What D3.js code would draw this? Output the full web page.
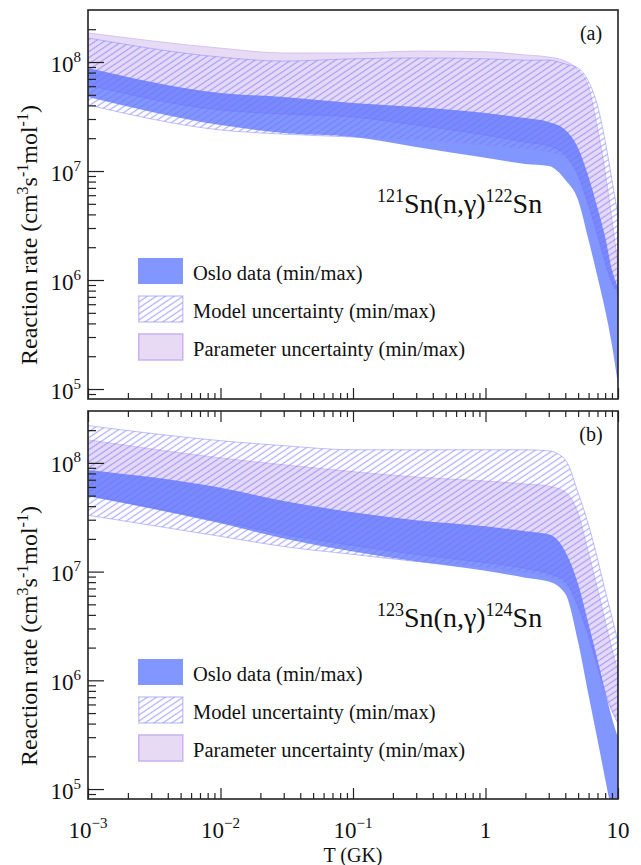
<!DOCTYPE html>
<html>
<head>
<meta charset="utf-8">
<script src="https://cdn.jsdelivr.net/npm/d3@7"></script>
<style>
  body { margin: 0; background: #fff; }
  svg { display: block; }
  text { font-family: "Liberation Serif", "Times New Roman", serif; fill: #111; }
</style>
</head>
<body>
<svg id="chart" width="641" height="865"></svg>
<script>
// Temperature grid (GK)
const temps = [0.001, 0.01, 0.03, 0.1, 0.3, 1, 2, 3, 4, 5, 6, 7, 8, 9, 10];

// (a) 121Sn(n,g)122Sn reaction rates, cm^3 s^-1 mol^-1
const osloMinA  = [4.78e7, 2.64e7, 2.23e7, 2.05e7, 1.66e7, 1.32e7, 1.16e7, 1.11e7, 8.3e6, 5.4e6, 2.33e6, 1.07e6, 5.3e5, 2.53e5, 1.09e5];
const osloMaxA  = [8.8e7, 5.2e7, 4.78e7, 4.21e7, 3.87e7, 3.40e7, 3.06e7, 2.82e7, 2.38e7, 1.63e7, 8.8e6, 4.6e6, 2.48e6, 1.24e6, 8.6e5];
const modelMinA = [4.04e7, 2.38e7, 2.18e7, 2.05e7, 1.92e7, 1.73e7, 1.59e7, 1.49e7, 1.32e7, 8.6e6, 4.6e6, 2.43e6, 1.37e6, 9.0e5, 7.3e5];
const modelMaxA = [1.66e8, 1.11e8, 1.02e8, 1.07e8, 1.09e8, 1.07e8, 1.04e8, 1.04e8, 9.6e7, 8.8e7, 6.6e7, 4.0e7, 1.88e7, 8.3e6, 3.9e6];
const paramMinA = [6.15e7, 3.63e7, 3.34e7, 3.13e7, 2.64e7, 2.14e7, 1.84e7, 1.70e7, 1.40e7, 9.2e6, 4.9e6, 2.59e6, 1.46e6, 9.6e5, 7.8e5];
const paramMaxA = [1.85e8, 1.34e8, 1.21e8, 1.21e8, 1.26e8, 1.24e8, 1.16e8, 1.11e8, 1.02e8, 8.45e7, 5.9e7, 2.48e7, 9.8e6, 3.55e6, 1.37e6];

// (b) 123Sn(n,g)124Sn reaction rates
const osloMinB  = [4.94e7, 2.78e7, 2.02e7, 1.53e7, 1.24e7, 1.02e7, 8.8e6, 8.1e6, 6.25e6, 2.25e6, 7.3e5, 2.85e5, 1.24e5, 6.0e4, 3.2e4];
const osloMaxB  = [8.6e7, 5.9e7, 4.45e7, 3.52e7, 2.97e7, 2.61e7, 2.35e7, 2.2e7, 1.53e7, 7.7e6, 3.3e6, 1.56e6, 7.9e5, 4.5e5, 2.97e5];
const modelMinB = [3.3e7, 2.11e7, 1.70e7, 1.44e7, 1.24e7, 1.09e7, 9.8e6, 9.0e6, 7.6e6, 4.54e6, 2.4e6, 1.27e6, 7.4e5, 5.2e5, 4.0e5];
const modelMaxB = [2.2e8, 1.6e8, 1.44e8, 1.32e8, 1.32e8, 1.32e8, 1.32e8, 1.29e8, 1.07e8, 5.3e7, 2.67e7, 1.32e7, 6.7e6, 3.83e6, 2.25e6];
const paramMinB = [5.06e7, 2.9e7, 2.2e7, 1.74e7, 1.44e7, 1.21e7, 1.07e7, 9.6e6, 8.1e6, 4.84e6, 2.55e6, 1.35e6, 7.9e5, 5.4e5, 4.2e5];
const paramMaxB = [1.63e8, 1.11e8, 9.6e7, 8.3e7, 7.4e7, 6.8e7, 6.4e7, 6.1e7, 5.4e7, 3.44e7, 1.47e7, 6.97e6, 3.52e6, 1.94e6, 1.21e6];

// Axis ticks
const xMajor = [1e-3, 1e-2, 1e-1, 1, 10];
const xMajorExp = ["−3", "−2", "−1", null, null];
const xMajorPlain = [null, null, null, "1", "10"];
const yMajor = [1e5, 1e6, 1e7, 1e8];
const yMajorExp = ["5", "6", "7", "8"];
const legendLabels = ["Oslo data (min/max)", "Model uncertainty (min/max)", "Parameter uncertainty (min/max)"];

const svg = d3.select("#chart");
const plotLeft = 88, plotRight = 618;

const x = d3.scaleLog().domain([1e-3, 10]).range([plotLeft, plotRight]);

function minorTicks(lo, hi) {
  const out = [];
  for (let e = Math.floor(Math.log10(lo)); e <= Math.ceil(Math.log10(hi)); e++) {
    for (let m = 2; m <= 9; m++) {
      const v = m * Math.pow(10, e);
      if (v > lo && v < hi) out.push(v);
    }
  }
  return out;
}

const defs = svg.append("defs");
const hatch = defs.append("pattern")
  .attr("id", "hatch")
  .attr("patternUnits", "userSpaceOnUse")
  .attr("width", 8).attr("height", 5)
  .attr("patternTransform", "rotate(-34)");
hatch.append("line")
  .attr("x1", 0).attr("x2", 8).attr("y1", 2.5).attr("y2", 2.5)
  .attr("stroke", "rgb(110,110,255)").attr("stroke-opacity", 0.55)
  .attr("stroke-width", 1.3);

const panels = [
  { id: "a", top: 10, bottom: 399, tag: "(a)", target: "121", product: "122", reactionY: 203, topTicks: false,
    oslo: [osloMinA, osloMaxA], model: [modelMinA, modelMaxA], param: [paramMinA, paramMaxA] },
  { id: "b", top: 411, bottom: 799, tag: "(b)", target: "123", product: "124", reactionY: 216, topTicks: true,
    oslo: [osloMinB, osloMaxB], model: [modelMinB, modelMaxB], param: [paramMinB, paramMaxB] }
];

const osloFill = "rgb(70,100,255)", osloOpacity = 0.68;
const paramFill = "#c9aee8", paramOpacity = 0.45;

panels.forEach(p => {
  const y = d3.scaleLog().domain([8.1e4, 3.0e8]).range([p.bottom, p.top]);
  const g = svg.append("g");

  defs.append("clipPath").attr("id", "clip-" + p.id)
    .append("rect").attr("x", plotLeft).attr("y", p.top)
    .attr("width", plotRight - plotLeft).attr("height", p.bottom - p.top);

  const band = (lo, hi) => temps.map((t, i) => ({ t, lo: lo[i], hi: hi[i] }));
  const area = d3.area()
    .x(d => x(d.t)).y0(d => y(d.lo)).y1(d => y(d.hi))
    .curve(d3.curveMonotoneX);

  const layer = g.append("g").attr("clip-path", `url(#clip-${p.id})`);
  layer.append("path").datum(band(...p.param))
    .attr("d", area).attr("fill", paramFill).attr("fill-opacity", paramOpacity)
    .attr("stroke", "#cdb8ee").attr("stroke-width", 0.8);
  layer.append("path").datum(band(...p.oslo))
    .attr("d", area).attr("fill", osloFill).attr("fill-opacity", osloOpacity);
  layer.append("path").datum(band(...p.model))
    .attr("d", area).attr("fill", "url(#hatch)")
    .attr("stroke", "rgb(140,140,255)").attr("stroke-opacity", 0.55).attr("stroke-width", 1);

  // Axes (ticks point inward)
  const tickStyle = sel => {
    sel.select(".domain").remove();
    sel.selectAll("line").attr("stroke", "#222").attr("stroke-width", 1.2);
  };
  g.append("g").attr("transform", `translate(${plotLeft},0)`)
    .call(d3.axisLeft(y).tickValues(yMajor).tickSize(-16).tickFormat(""))
    .call(tickStyle);
  g.append("g").attr("transform", `translate(${plotLeft},0)`)
    .call(d3.axisLeft(y).tickValues(minorTicks(8.1e4, 3.0e8)).tickSize(-8).tickFormat(""))
    .call(tickStyle);
  g.append("g").attr("transform", `translate(0,${p.bottom})`)
    .call(d3.axisBottom(x).tickValues(xMajor).tickSize(-11).tickFormat(""))
    .call(tickStyle);
  g.append("g").attr("transform", `translate(0,${p.bottom})`)
    .call(d3.axisBottom(x).tickValues(minorTicks(1e-3, 10)).tickSize(-6).tickFormat(""))
    .call(tickStyle);
  if (p.topTicks) {
    g.append("g").attr("transform", `translate(0,${p.top})`)
      .call(d3.axisTop(x).tickValues(xMajor).tickSize(-11).tickFormat(""))
      .call(tickStyle);
    g.append("g").attr("transform", `translate(0,${p.top})`)
      .call(d3.axisTop(x).tickValues(minorTicks(1e-3, 10)).tickSize(-6).tickFormat(""))
      .call(tickStyle);
  }

  g.append("rect")
    .attr("x", plotLeft).attr("y", p.top)
    .attr("width", plotRight - plotLeft).attr("height", p.bottom - p.top)
    .attr("fill", "none").attr("stroke", "#222").attr("stroke-width", 1.6);

  // y tick labels
  yMajor.forEach((v, i) => {
    const t = g.append("text").attr("x", 81).attr("y", y(v) + 9.5)
      .attr("text-anchor", "end").attr("font-size", 23);
    t.append("tspan").text("10");
    t.append("tspan").attr("dy", -10).attr("font-size", 15).text(yMajorExp[i]);
  });

  // y axis title
  const yt = g.append("text")
    .attr("transform", `translate(37,${p.top + 225}) rotate(-90)`)
    .attr("text-anchor", "middle").attr("font-size", 24);
  yt.append("tspan").text("Reaction rate (cm");
  yt.append("tspan").attr("dy", -9).attr("font-size", 16).text("3");
  yt.append("tspan").attr("dy", 9).text("s");
  yt.append("tspan").attr("dy", -9).attr("font-size", 16).text("-1");
  yt.append("tspan").attr("dy", 9).text("mol");
  yt.append("tspan").attr("dy", -9).attr("font-size", 16).text("-1");
  yt.append("tspan").attr("dy", 9).text(")");

  // panel tag
  g.append("text").attr("x", 591).attr("y", p.top + 30)
    .attr("text-anchor", "middle").attr("font-size", 20).text(p.tag);

  // reaction label
  const rl = g.append("text").attr("x", 377).attr("y", p.top + p.reactionY).attr("font-size", 28);
  rl.append("tspan").attr("dy", -11).attr("font-size", 18).text(p.target);
  rl.append("tspan").attr("dy", 11).text("Sn(n,γ)");
  rl.append("tspan").attr("dy", -11).attr("font-size", 18).text(p.product);
  rl.append("tspan").attr("dy", 11).text("Sn");

  // legend
  const lg = g.append("g").attr("transform", `translate(138,${p.top})`);
  const rows = [248, 286, 324];
  lg.append("rect").attr("x", 0).attr("y", rows[0]).attr("width", 45).attr("height", 26)
    .attr("fill", osloFill).attr("fill-opacity", osloOpacity);
  lg.append("rect").attr("x", 0.75).attr("y", rows[1]).attr("width", 44).attr("height", 26)
    .attr("fill", "url(#hatch)").attr("stroke", "rgb(140,140,255)").attr("stroke-opacity", 0.45).attr("stroke-width", 1.5);
  lg.append("rect").attr("x", 0.75).attr("y", rows[2]).attr("width", 44).attr("height", 26)
    .attr("fill", paramFill).attr("fill-opacity", paramOpacity)
    .attr("stroke", "#c9b2ee").attr("stroke-width", 1.5);
  legendLabels.forEach((s, i) => {
    lg.append("text").attr("x", 55).attr("y", rows[i] + 22).attr("font-size", 20.5).text(s);
  });
});

// x tick labels
xMajor.forEach((v, i) => {
  const t = svg.append("text").attr("x", x(v)).attr("y", 838)
    .attr("text-anchor", "middle").attr("font-size", 23);
  if (xMajorPlain[i]) {
    t.text(xMajorPlain[i]);
  } else {
    t.append("tspan").text("10");
    t.append("tspan").attr("dy", -10).attr("font-size", 15).text(xMajorExp[i]);
  }
});

svg.append("text").attr("x", (plotLeft + plotRight) / 2).attr("y", 862)
  .attr("text-anchor", "middle").attr("font-size", 20).text("T (GK)");
</script>
</body>
</html>
